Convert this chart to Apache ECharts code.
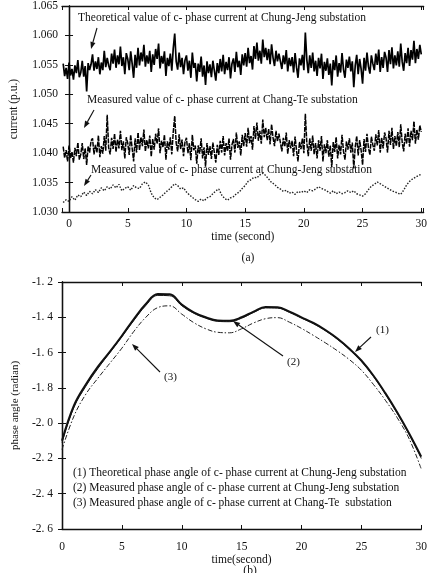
<!DOCTYPE html>
<html><head><meta charset="utf-8">
<script src="https://cdn.jsdelivr.net/npm/echarts@6/dist/echarts.min.js"></script>
<style>html,body{margin:0;padding:0;background:#fff}#c{width:430px;height:573px}</style>
</head><body><div id="c"></div>
<script>
// ---- (a) current magnitude ----
// theoretical (Chung-Jeng) and measured (Chang-Te): sampled every 0.125 s from -0.5 s
const denseTimeStart = -0.5, denseTimeStep = 0.125;
const theoretical = [
1.0552,1.0531,1.0545,1.0526,
1.0554,1.0532,1.0543,1.0525,1.0549,1.0536,1.0558,1.0529,
1.0537,1.0557,1.0530,1.0548,1.0505,1.0553,1.0541,1.0551,
1.0568,1.0540,1.0556,1.0543,1.0563,1.0534,1.0554,1.0541,
1.0574,1.0546,1.0562,1.0549,1.0541,1.0569,1.0552,1.0576,
1.0545,1.0566,1.0551,1.0581,1.0548,1.0563,1.0534,1.0570,
1.0560,1.0541,1.0573,1.0552,1.0528,1.0567,1.0545,1.0579,
1.0549,1.0571,1.0556,1.0584,1.0547,1.0566,1.0552,1.0574,
1.0538,1.0568,1.0550,1.0577,1.0560,1.0586,1.0544,1.0565,
1.0552,1.0573,1.0531,1.0562,1.0548,1.0569,1.0540,1.0578,
1.0603,1.0556,1.0542,1.0571,1.0546,1.0562,1.0534,1.0558,
1.0566,1.0540,1.0557,1.0528,1.0571,1.0545,1.0553,1.0522,
1.0552,1.0538,1.0564,1.0530,1.0549,1.0516,1.0556,1.0536,
1.0551,1.0529,1.0557,1.0540,1.0523,1.0553,1.0536,1.0560,
1.0539,1.0567,1.0534,1.0555,1.0541,1.0563,1.0527,1.0552,
1.0561,1.0538,1.0572,1.0546,1.0557,1.0533,1.0568,1.0549,
1.0570,1.0547,1.0579,1.0553,1.0565,1.0542,1.0582,1.0560,
1.0588,1.0557,1.0574,1.0552,1.0593,1.0563,1.0579,1.0558,
1.0577,1.0551,1.0585,1.0562,1.0548,1.0574,1.0556,1.0569,
1.0571,1.0543,1.0566,1.0551,1.0575,1.0539,1.0562,1.0548,
1.0563,1.0537,1.0570,1.0546,1.0528,1.0561,1.0549,1.0567,
1.0541,1.0605,1.0559,1.0536,1.0566,1.0545,1.0571,1.0539,
1.0557,1.0531,1.0562,1.0544,1.0569,1.0526,1.0555,1.0540,
1.0561,1.0533,1.0552,1.0515,1.0558,1.0541,1.0566,1.0530,
1.0553,1.0537,1.0570,1.0542,1.0528,1.0559,1.0545,1.0564,
1.0539,1.0556,1.0512,1.0549,1.0567,1.0534,1.0560,1.0543,
1.0518,1.0562,1.0540,1.0571,1.0547,1.0535,1.0566,1.0552,
1.0541,1.0569,1.0550,1.0576,1.0538,1.0563,1.0545,1.0572,
1.0562,1.0538,1.0575,1.0551,1.0580,1.0544,1.0566,1.0549,
1.0573,1.0547,1.0586,1.0555,1.0540,1.0570,1.0553,1.0579,
1.0548,1.0575,1.0559,1.0591,1.0553,1.0577,1.0560,1.0584,
1.0568];
const measuredChangTe = [
1.0411,1.0392,1.0405,1.0386,
1.0413,1.0391,1.0402,1.0384,1.0409,1.0395,1.0418,1.0389,
1.0398,1.0417,1.0390,1.0408,1.0380,1.0412,1.0401,1.0421,
1.0425,1.0398,1.0414,1.0401,1.0430,1.0393,1.0412,1.0399,
1.0429,1.0404,1.0465,1.0409,1.0398,1.0426,1.0407,1.0433,
1.0402,1.0423,1.0408,1.0438,1.0405,1.0420,1.0391,1.0427,
1.0417,1.0397,1.0431,1.0408,1.0386,1.0425,1.0401,1.0435,
1.0405,1.0427,1.0412,1.0440,1.0403,1.0422,1.0408,1.0430,
1.0394,1.0424,1.0406,1.0433,1.0416,1.0442,1.0400,1.0421,
1.0410,1.0431,1.0389,1.0420,1.0406,1.0427,1.0398,1.0436,
1.0463,1.0417,1.0403,1.0432,1.0407,1.0423,1.0395,1.0419,
1.0426,1.0400,1.0417,1.0388,1.0431,1.0405,1.0413,1.0382,
1.0413,1.0399,1.0425,1.0391,1.0410,1.0377,1.0417,1.0397,
1.0412,1.0390,1.0418,1.0401,1.0384,1.0414,1.0397,1.0421,
1.0401,1.0429,1.0396,1.0417,1.0403,1.0425,1.0389,1.0414,
1.0424,1.0401,1.0435,1.0409,1.0420,1.0396,1.0431,1.0412,
1.0434,1.0411,1.0443,1.0417,1.0429,1.0406,1.0446,1.0424,
1.0452,1.0421,1.0438,1.0416,1.0457,1.0427,1.0443,1.0422,
1.0441,1.0415,1.0449,1.0426,1.0412,1.0438,1.0420,1.0433,
1.0431,1.0403,1.0426,1.0411,1.0435,1.0399,1.0422,1.0408,
1.0421,1.0395,1.0428,1.0404,1.0386,1.0419,1.0407,1.0425,
1.0400,1.0467,1.0418,1.0395,1.0425,1.0404,1.0430,1.0398,
1.0417,1.0391,1.0422,1.0404,1.0429,1.0386,1.0415,1.0400,
1.0422,1.0394,1.0413,1.0376,1.0419,1.0402,1.0427,1.0391,
1.0414,1.0398,1.0431,1.0403,1.0389,1.0420,1.0406,1.0425,
1.0401,1.0418,1.0374,1.0411,1.0429,1.0396,1.0422,1.0405,
1.0380,1.0424,1.0402,1.0433,1.0409,1.0397,1.0428,1.0414,
1.0404,1.0432,1.0413,1.0439,1.0401,1.0426,1.0408,1.0435,
1.0425,1.0401,1.0438,1.0414,1.0443,1.0407,1.0429,1.0412,
1.0436,1.0410,1.0449,1.0418,1.0403,1.0433,1.0416,1.0442,
1.0411,1.0438,1.0422,1.0454,1.0416,1.0440,1.0423,1.0447,
1.0436];
// measured (Chung-Jeng): sampled every 0.25 s from -0.5 s
const cjTimeStart = -0.5, cjTimeStep = 0.25;
const measuredChungJeng = [
1.0316,1.0321,
1.0318,1.0326,1.0320,1.0329, 1.0326,1.0334,1.0328,1.0335, 1.0331,1.0338,1.0333,1.0341,
1.0336,1.0343,1.0339,1.0346, 1.0341,1.0347,1.0336,1.0340, 1.0343,1.0337,1.0345,1.0341,
1.0340,1.0348,1.0351,1.0346, 1.0332,1.0324,1.0321,1.0325, 1.0329,1.0334,1.0338,1.0343,
1.0348,1.0345,1.0339,1.0341, 1.0334,1.0329,1.0325,1.0321, 1.0318,1.0322,1.0319,1.0324,
1.0326,1.0331,1.0336,1.0339, 1.0329,1.0323,1.0320,1.0324, 1.0326,1.0331,1.0334,1.0340,
1.0345,1.0352,1.0355,1.0359, 1.0358,1.0363,1.0366,1.0362, 1.0356,1.0350,1.0347,1.0342,
1.0339,1.0335,1.0337,1.0332, 1.0334,1.0330,1.0335,1.0333, 1.0336,1.0333,1.0338,1.0336,
1.0339,1.0343,1.0340,1.0338, 1.0335,1.0332,1.0336,1.0331, 1.0334,1.0331,1.0333,1.0336,
1.0333,1.0336,1.0331,1.0329, 1.0327,1.0331,1.0338,1.0344, 1.0347,1.0351,1.0348,1.0345,
1.0342,1.0339,1.0336,1.0334, 1.0332,1.0330,1.0337,1.0346, 1.0352,1.0356,1.0359,1.0362,
1.0364];

// ---- (b) phase angle, sampled every 1 s ----
const phaseTime = [0,1,2,3,4,5,6,7,8,9,10,11,12,13,14,15,16,17,18,19,20,21,22,23,24,25,26,27,28,29,30];
const phaseTheoCJ = [-2.10,-1.90,-1.78,-1.68,-1.595,-1.505,-1.41,-1.325,-1.268,-1.27,-1.328,-1.372,-1.40,-1.418,-1.42,-1.40,-1.368,-1.342,-1.343,-1.368,-1.40,-1.432,-1.472,-1.52,-1.578,-1.645,-1.73,-1.83,-1.94,-2.06,-2.19];
const phaseMeasCJ = [-2.11,-1.91,-1.79,-1.69,-1.60,-1.51,-1.418,-1.333,-1.276,-1.278,-1.334,-1.377,-1.405,-1.423,-1.425,-1.405,-1.373,-1.347,-1.348,-1.373,-1.405,-1.437,-1.477,-1.525,-1.583,-1.65,-1.735,-1.835,-1.945,-2.065,-2.20];
const phaseMeasCT = [-2.15,-1.96,-1.835,-1.745,-1.66,-1.575,-1.48,-1.40,-1.345,-1.335,-1.382,-1.43,-1.465,-1.485,-1.488,-1.465,-1.432,-1.408,-1.402,-1.428,-1.463,-1.503,-1.545,-1.59,-1.64,-1.70,-1.78,-1.87,-1.97,-2.09,-2.26];

const FONT = '"Liberation Serif","Times New Roman",serif';
const INK = '#111';

function toPairs(vals, t0, dt){ return vals.map((v,i)=>[t0 + i*dt, v]); }
function zip(xs, ys){ return xs.map((x,i)=>[x, ys[i]]); }

function arrow(x1,y1,x2,y2){
  const a = Math.atan2(y2-y1, x2-x1), L = 7, W = 2.6;
  const bx = x2 - L*Math.cos(a), by = y2 - L*Math.sin(a);
  const px = -Math.sin(a)*W, py = Math.cos(a)*W;
  return [
    {type:'line', z:100, shape:{x1:x1,y1:y1,x2:bx,y2:by}, style:{stroke:INK,lineWidth:1.1}},
    {type:'polygon', z:100, shape:{points:[[x2,y2],[bx+px,by+py],[bx-px,by-py]]}, style:{fill:INK}}
  ];
}
function label(text, x, y, size, align){
  return {type:'text', z:100, x:x, y:y, style:{text:text, font:(size||11)+'px '+FONT, fill:INK, verticalAlign:'middle', align:align||'left'}};
}

const tickStyle = {show:true, inside:true, length:4, lineStyle:{color:INK,width:1}};
const lineStyleAxis = {show:true, lineStyle:{color:INK, width:1.3}};
const labelStyle = {color:INK, fontFamily:FONT, fontSize:11.5};

function fiveFmt(v){ const r = Math.round(v); return (Math.abs(v-r)<1e-6 && r%5===0) ? String(Math.abs(r)===0?0:r) : ''; }

const option = {
  animation:false,
  backgroundColor:'#fff',
  grid:[
    {left:56, top:5, width:371, height:207},
    {left:62, top:282, width:366, height:247}
  ],
  xAxis:[
    {type:'value', gridIndex:0, min:-0.6, max:30.2, splitNumber:6, axisLine:lineStyleAxis, axisTick:tickStyle, splitLine:{show:false},
     axisLabel:Object.assign({margin:6, formatter:fiveFmt}, labelStyle),
     name:'time (second)', nameLocation:'middle', nameGap:18, nameTextStyle:{color:INK,fontFamily:FONT,fontSize:11.5}},
    {type:'value', gridIndex:0, position:'top', min:-0.6, max:30.2, splitNumber:6, axisLine:lineStyleAxis, axisTick:tickStyle, axisLabel:{show:false}, splitLine:{show:false}},
    {type:'value', gridIndex:1, min:0, max:30, interval:5, axisLine:lineStyleAxis, axisTick:tickStyle, splitLine:{show:false},
     axisLabel:Object.assign({margin:12}, labelStyle),
     name:'time(second)', nameLocation:'middle', nameGap:21, nameTextStyle:{color:INK,fontFamily:FONT,fontSize:11.5}},
    {type:'value', gridIndex:1, position:'top', min:0, max:30, interval:5, axisLine:lineStyleAxis, axisTick:tickStyle, axisLabel:{show:false}, splitLine:{show:false}}
  ],
  yAxis:[
    {type:'value', gridIndex:0, min:1.03, max:1.065, interval:0.005, axisLine:lineStyleAxis, axisTick:tickStyle, splitLine:{show:false},
     axisLabel:Object.assign({margin:4, formatter:v=>v.toFixed(3)}, labelStyle),
     name:'current (p.u.)', nameLocation:'middle', nameGap:42, nameTextStyle:{color:INK,fontFamily:FONT,fontSize:11.5}},
    {type:'value', gridIndex:0, position:'right', min:1.03, max:1.065, interval:0.005, axisLine:lineStyleAxis, axisTick:tickStyle, axisLabel:{show:false}, splitLine:{show:false}},
    {type:'value', gridIndex:1, min:-2.6, max:-1.2, interval:0.2, axisLine:lineStyleAxis, axisTick:tickStyle, splitLine:{show:false},
     axisLabel:Object.assign({margin:9, formatter:v=>v.toFixed(1).replace('.', '. ')}, labelStyle),
     name:'phase angle (radian)', nameLocation:'middle', nameGap:40, nameTextStyle:{color:INK,fontFamily:FONT,fontSize:11}},
    {type:'value', gridIndex:1, position:'right', min:-2.6, max:-1.2, interval:0.2, axisLine:lineStyleAxis, axisTick:tickStyle, axisLabel:{show:false}, splitLine:{show:false}}
  ],
  series:[
    {type:'line', name:'Theoretical value (Chung-Jeng)', xAxisIndex:0, yAxisIndex:0, data:toPairs(theoretical, denseTimeStart, denseTimeStep), showSymbol:false, lineStyle:{color:'#000', width:1.7}},
    {type:'line', name:'Measured value (Chang-Te)', xAxisIndex:0, yAxisIndex:0, data:toPairs(measuredChangTe, denseTimeStart, denseTimeStep), showSymbol:false, lineStyle:{color:'#000', width:1.5, type:[5,1]}},
    {type:'line', name:'Measured value (Chung-Jeng)', xAxisIndex:0, yAxisIndex:0, data:toPairs(measuredChungJeng, cjTimeStart, cjTimeStep), showSymbol:false, lineStyle:{color:'#222', width:1.4, type:[1.5,1.5]}},
    {type:'line', name:'(1)', xAxisIndex:2, yAxisIndex:2, data:zip(phaseTime, phaseTheoCJ), showSymbol:false, smooth:0.4, lineStyle:{color:INK, width:2}},
    {type:'line', name:'(2)', xAxisIndex:2, yAxisIndex:2, data:zip(phaseTime, phaseMeasCJ), showSymbol:false, smooth:0.4, lineStyle:{color:INK, width:1}},
    {type:'line', name:'(3)', xAxisIndex:2, yAxisIndex:2, data:zip(phaseTime, phaseMeasCT), showSymbol:false, smooth:0.4, lineStyle:{color:'#222', width:1, type:[5,2,1.5,2]}}
  ],
  graphic:[].concat(
    [label('Theoretical value of c- phase current at Chung-Jeng substation', 78, 18, 11.5),
     label('Measured value of c- phase current at Chang-Te substation', 87, 100, 11.5),
     label('Measured value of c- phase current at Chung-Jeng substation', 91, 170, 11.5),
     label('(a)', 248, 258, 11.5, 'center'),
     label('(1)', 376, 330, 11),
     label('(2)', 287, 362, 11),
     label('(3)', 164, 377, 11),
     label('(1) Theoretical phase angle of c- phase current at Chung-Jeng substation', 73, 473, 11.5),
     label('(2) Measured phase angle of c- phase current at Chung-Jeng substation', 73, 488, 11.5),
     label('(3) Measured phase angle of c- phase current at Chang-Te  substation', 73, 503, 11.5),
     label('(b)', 250, 571, 11.5, 'center')],
    arrow(97,28,91,49),
    arrow(94,110,84,128),
    arrow(91,175,84,186),
    arrow(371,337,355,352),
    arrow(283,356,233,321),
    arrow(160,372,132,344)
  )
};
const chart = echarts.init(document.getElementById('c'), null, {renderer:'canvas'});
chart.setOption(option);
</script>
</body></html>
